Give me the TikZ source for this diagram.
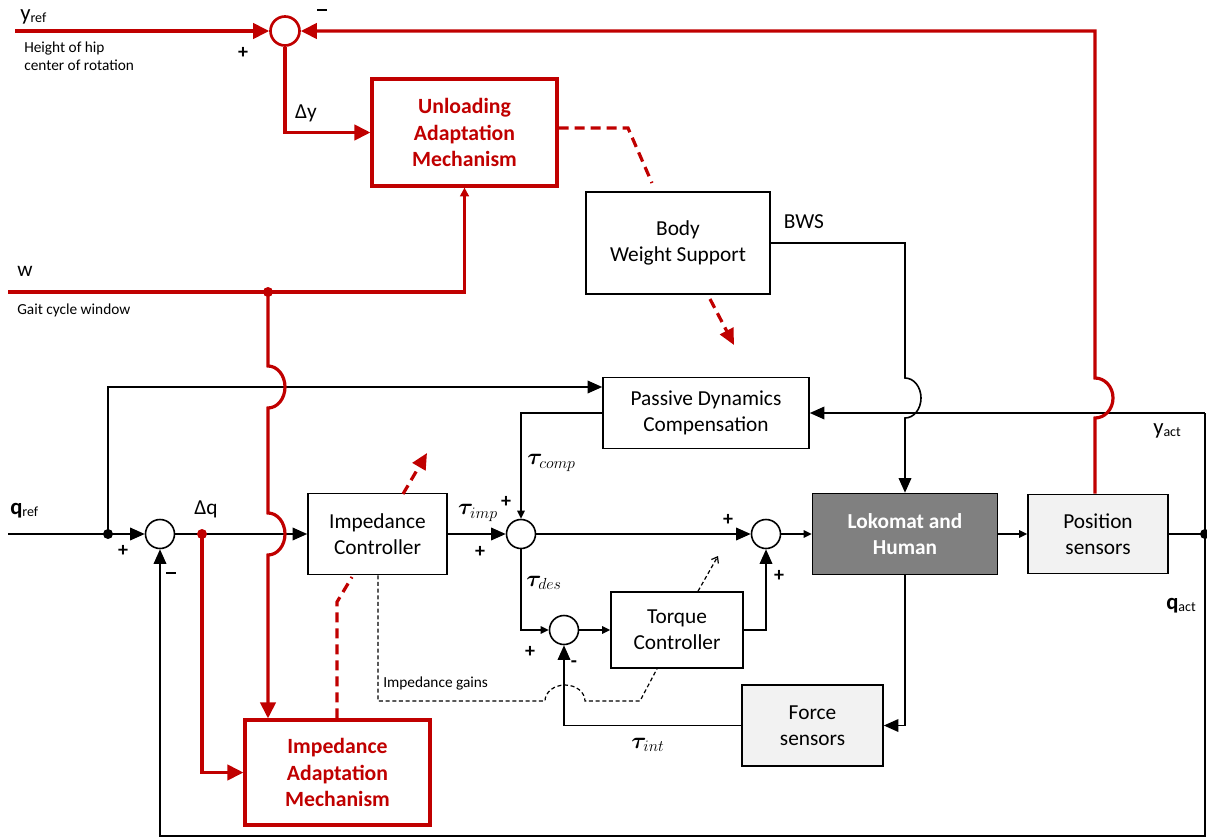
\documentclass[tikz,border=0pt]{standalone}
\usepackage{fontspec}
\setmainfont{Carlito}
\usepackage{bm}
\usetikzlibrary{arrows.meta,calc}
\definecolor{adapt}{RGB}{192,0,0}
\definecolor{plant}{RGB}{128,128,128}
\definecolor{sensor}{RGB}{242,242,242}
% lowered, smaller text for signal subscripts
\newcommand\sublbl[1]{\raisebox{-1.5pt}{\fontsize{10.5}{10.5}\selectfont #1}}
% bold minus sign of a summing junction
\newcommand\minussign{\rule{7pt}{1.6pt}}

\begin{document}
\begin{tikzpicture}[x=0.75pt,y=-0.75pt,
  every node/.style={inner sep=0pt},
  box/.style={draw,line width=1.2pt,align=center,font=\fontsize{16}{19.5}\selectfont},
  adaptbox/.style={draw=adapt,line width=2.4pt,align=center,text=adapt,font=\fontsize{16.3}{20}\selectfont\bfseries},
  sumnode/.style={circle,draw,line width=1.2pt,minimum size=21.75pt},
  lbl/.style={font=\fontsize{16}{19.5}\selectfont},
  sublabel/.style={font=\fontsize{17}{17}\selectfont},
  tau/.style={font=\fontsize{18}{18}\selectfont},
  note/.style={font=\fontsize{11.5}{13.5}\selectfont,align=left},
  sgn/.style={font=\fontsize{15}{15}\selectfont\bfseries},
  sig/.style={line width=1.2pt},
  big/.style={-{Triangle[length=11pt,width=9.5pt]}},
  small/.style={-{Triangle[length=6pt,width=5.5pt]}},
  adaptline/.style={draw=adapt,line width=2.4pt},
  rbig/.style={-{Triangle[length=12pt,width=11.5pt]}},
  rsmall/.style={-{Triangle[length=6.5pt,width=6.5pt]}},
  rdash/.style={draw=adapt,line width=2.4pt,dash pattern=on 7.5pt off 4.5pt},
  gaindash/.style={line width=0.9pt,dash pattern=on 3pt off 2pt},
  dot/.style={circle,fill,minimum size=7.5pt},
]
\useasboundingbox (0,0) rectangle (1207,839);

% ---- blocks ----
\node[adaptbox,minimum width=138.75pt,minimum height=80.25pt] (UAM) at (464.5,132.5) {Unloading\\Adaptation\\Mechanism};
\node[box,minimum width=138pt,minimum height=76.5pt] (BWS) at (678,243) {Body\\Weight Support};
\node[box,minimum width=154.5pt,minimum height=53.25pt] (PDC) at (706,413) {Passive Dynamics\\Compensation};
\node[box,minimum width=104.25pt,minimum height=60.75pt] (IC) at (377.5,534) {Impedance\\Controller};
\node[box,fill=plant,text=white,font=\fontsize{16}{19.5}\selectfont\bfseries,minimum width=138.75pt,minimum height=60.75pt] (LH) at (905,534) {Lokomat and\\Human};
\node[box,fill=sensor,minimum width=105pt,minimum height=59.25pt] (PS) at (1098,534) {Position\\sensors};
\node[box,minimum width=99pt,minimum height=57pt] (TC) at (677,630) {Torque\\Controller};
\node[box,fill=sensor,minimum width=105.75pt,minimum height=60.75pt] (FS) at (812.5,725.5) {Force\\sensors};
\node[adaptbox,minimum width=138.75pt,minimum height=78.75pt] (IAM) at (337.5,772.5) {Impedance\\Adaptation\\Mechanism};

% ---- summing junctions ----
\node[sumnode,draw=adapt,line width=2pt] (SY) at (285,31) {};
\node[sumnode] (S1) at (160,534) {};
\node[sumnode] (S2) at (521,534) {};
\node[sumnode] (S3) at (766,534) {};
\node[sumnode] (S4) at (564,630) {};

% ---- free ends and branch points ----
\coordinate (qin) at (8,534);
\coordinate (J1) at (108,534);
\coordinate (dq) at (202,534);
\coordinate (yin) at (15,31);
\coordinate (win) at (8,292);
\coordinate (wj) at (268,292);
\coordinate (R) at (1205,534);
\coordinate (Rt) at (1205,413);
\coordinate (Rb) at (1205,836);

% ---- joint-level control loop ----
\draw[sig,big] (qin) -- (S1.west);
\draw[sig,big] (J1) |- (PDC.west |- 0,387);
\node[dot] (J1dot) at (J1) {};
\draw[sig,big] (S1.east) -- (IC.west);
\draw[sig,big] (IC.east) -- (S2.west);
\draw[sig,small] (PDC.west) -| (S2.north);
\draw[sig,big] (S2.east) -- (S3.west);
\draw[sig,small] (S3.east) -- (LH.west);
\draw[sig,small] (S2.south) |- (S4.west);
\draw[sig,small] (S4.east) -- (TC.west);
\draw[sig,big] (TC.east) -| (S3.south);
\draw[sig,big] (BWS.east) -- (905,243) -- (905,378)
   arc[start angle=90,end angle=-90,x radius=12pt,y radius=15pt] -- (LH.north);
\draw[sig,small] (LH.east) -- (PS.west);
\draw[sig] (PS.east) -- (R);
\node[dot] (Rdot) at (R) {};
\draw[sig,big] (Rt) -- (PDC.east);
\draw[sig,big] (Rt) -- (Rb) -| (S1.south);
\draw[sig,big] (LH.south) |- (FS.east);
\draw[sig,big] (FS.west) -| (S4.south);

% ---- adaptation paths ----
\draw[adaptline,rbig] (yin) -- (SY.west);
\draw[adaptline,rbig] (PS.north -| 1095,0) -- (1095,418)
   arc[start angle=-90,end angle=90,x radius=13.5pt,y radius=15pt] -- (1095,31) -- (SY.east);
\draw[adaptline,rbig] (SY.south) |- (UAM.west);
\draw[adaptline,rsmall] (win) -| (UAM.south);
\draw[adaptline,rbig] (wj) -- (268,366)
   arc[start angle=90,end angle=-90,x radius=12.75pt,y radius=15.75pt] -- (268,513)
   arc[start angle=90,end angle=-90,x radius=12.75pt,y radius=15.75pt] -- (IAM.north -| 268,0);
\node[dot,fill=adapt] (wdot) at (wj) {};
\draw[adaptline,rbig] (dq) |- (IAM.west);
\node[dot,fill=adapt] (dqdot) at (dq) {};

% adaptation influence (dashed)
\draw[rdash] (UAM.east |- 0,128) -- (628,128) -- (652,183);
\draw[rdash,-{Triangle[length=12pt,width=11pt]}] (710,299) -- (734,345);
\draw[rdash] (IAM.north -| 337,0) -- (337,602) -- (352,577);
\draw[rdash,-{Triangle[length=12pt,width=11pt]}] (403,494) -- (427,453);

% gain scheduling (thin dashed)
\draw[gaindash,-{Straight Barb[length=4pt,width=6pt]}] (TC.north -| 698,0) -- (718,556);
\draw[gaindash] (IC.south -| 378,0) -- (378,701) -- (545,701)
   arc[start angle=180,end angle=0,x radius=15pt,y radius=12pt] -- (640,701) -- (TC.south -| 657,0);

% ---- labels ----
\node[sublabel,anchor=base west] (lyref) at (20,20) {y\sublbl{ref}};
\node[note,anchor=north west] (lhip) at (24,42) {Height of hip\\center of rotation};
\node[sgn] (p1) at (243,53) {+};
\node[sgn] (m1) at (322,10) {\minussign};
\node[lbl] (ldy) at (306,113) {Δy};
\node[lbl] (lw) at (25,271) {w};
\node[note,anchor=west] (lgait) at (17,310) {Gait cycle window};
\node[lbl] (lbws) at (804,222) {BWS};
\node[sublabel,anchor=base west] (lqref) at (10,514) {\textbf{q}\sublbl{ref}};
\node[sgn] (p2) at (123,551) {+};
\node[sgn] (m2) at (171,573) {\minussign};
\node[lbl] (ldq) at (206,509) {Δq};
\node[tau,anchor=west] (ltc) at (527,463) {$\bm{\tau}_{comp}$};
\node[tau] (lti) at (478,513) {$\bm{\tau}_{imp}$};
\node[sgn] (p3) at (506,502) {+};
\node[sgn] (p4) at (480,552) {+};
\node[tau,anchor=west] (ltd) at (526,583) {$\bm{\tau}_{des}$};
\node[sgn] (p5) at (530,652) {+};
\node[sgn] (m3) at (574,664) {-};
\node[sgn] (p6) at (728,520) {+};
\node[sgn] (p7) at (779,576) {+};
\node[note,anchor=west] (lgain) at (383,683) {Impedance gains};
\node[tau] (ltint) at (648,745) {$\bm{\tau}_{int}$};
\node[sublabel,anchor=base west] (lyact) at (1153,434) {y\sublbl{act}};
\node[sublabel,anchor=base west] (lqact) at (1166,609) {\textbf{q}\sublbl{act}};
\end{tikzpicture}
\end{document}
